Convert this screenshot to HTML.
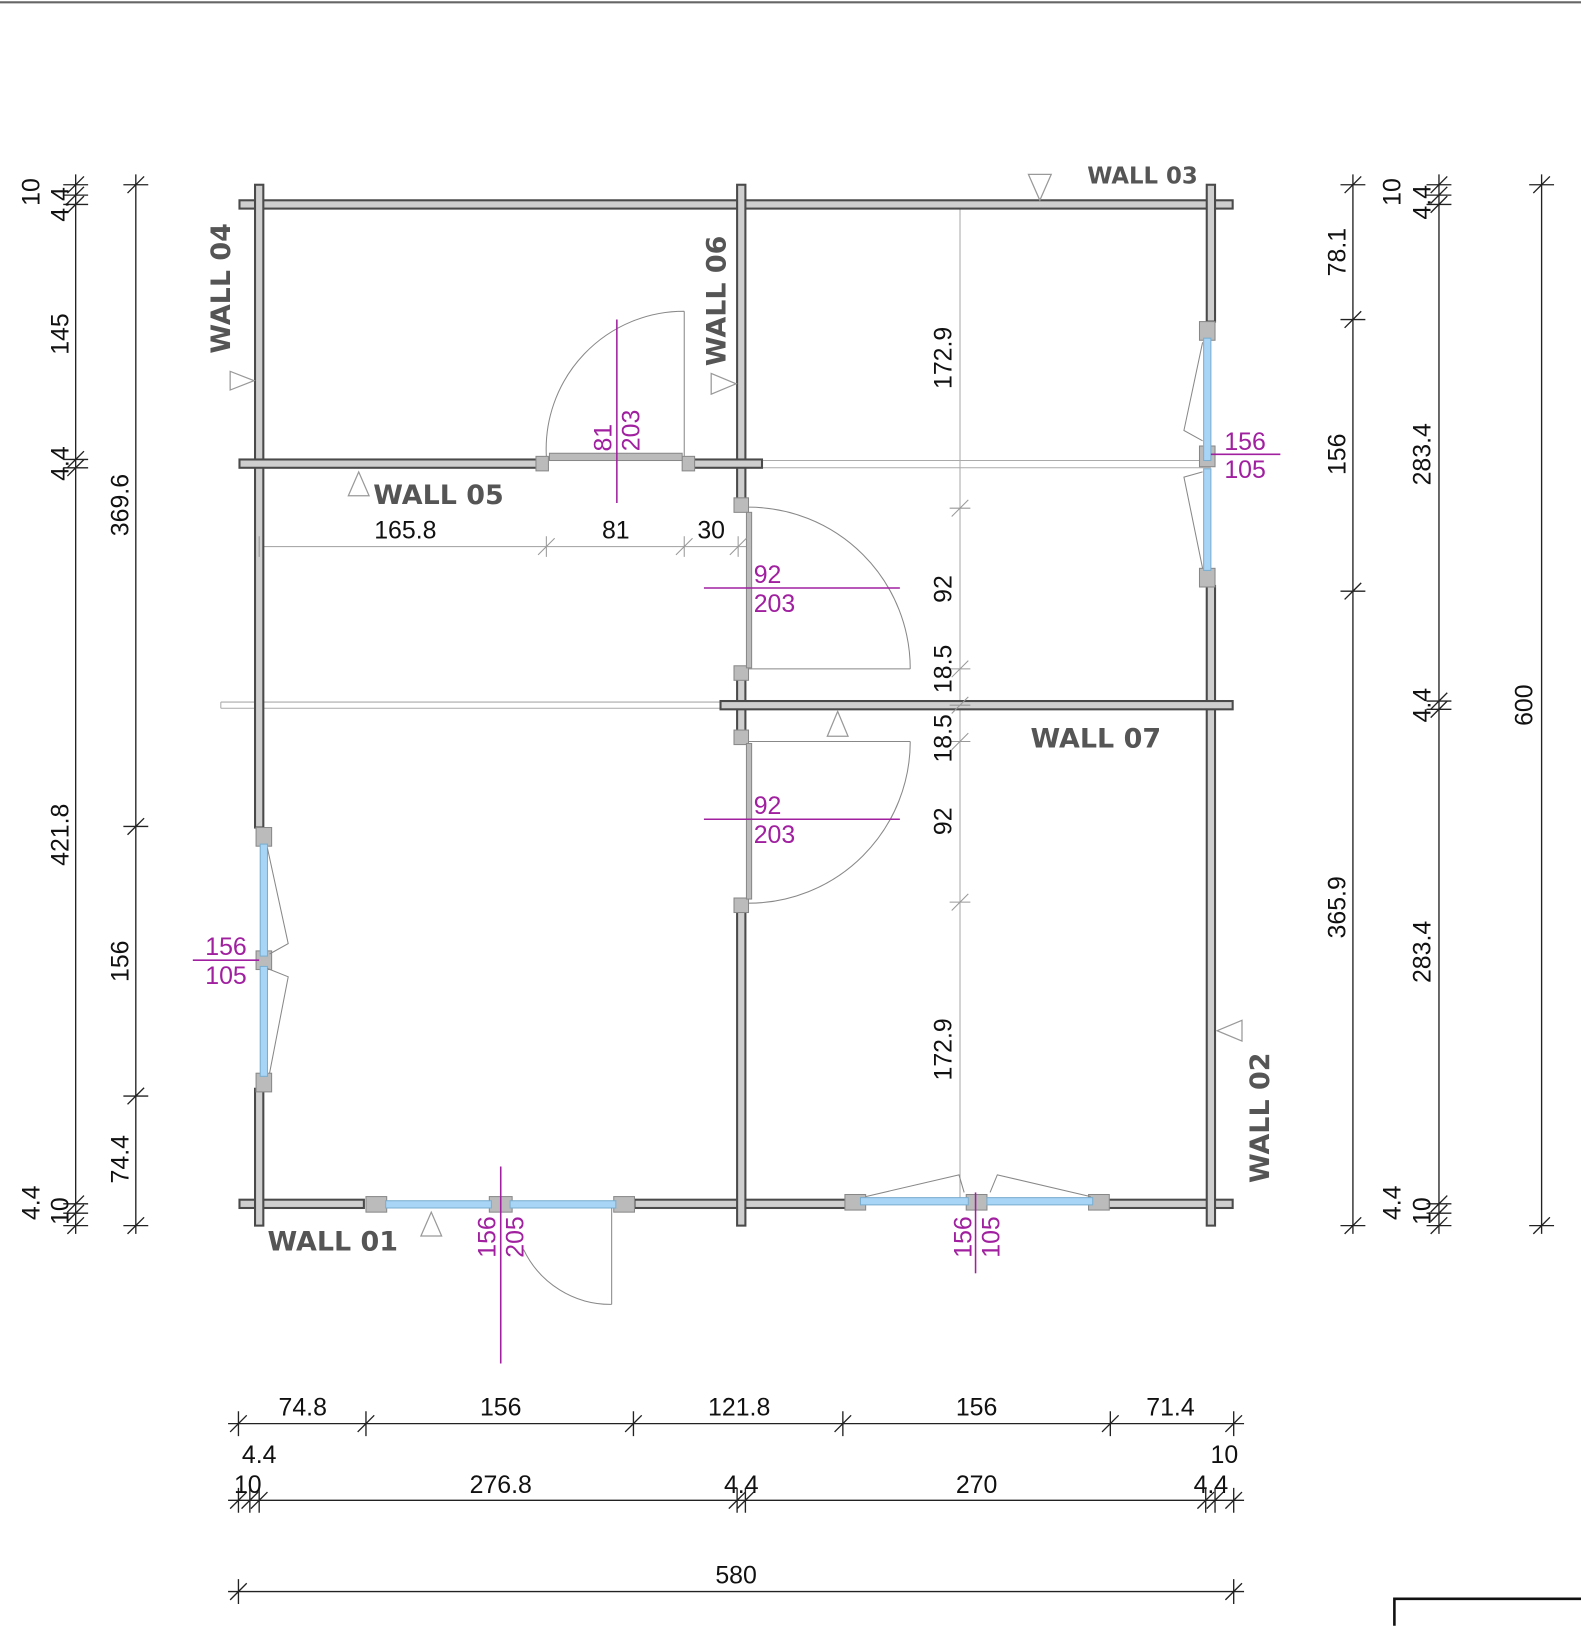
<!DOCTYPE html>
<html><head><meta charset="utf-8"><style>
html,body{margin:0;padding:0;background:#fff;}
svg{display:block;}
text{font-family:"Liberation Sans",sans-serif;}
.d{font-size:24px;fill:#111;}
.p{font-size:24px;fill:#a020a0;}
.w{font-size:26px;font-weight:bold;fill:#555;font-family:"DejaVu Sans","Liberation Sans",sans-serif;}
</style></head><body>
<svg width="1581" height="1626" viewBox="0 0 1525 1568" xmlns="http://www.w3.org/2000/svg">
<defs>
<path id="tv" d="M-12 0h24M-8 8l16-16" stroke="#222" stroke-width="1.3" fill="none"/>
<path id="th" d="M0 -12v24M-8 8l16-16" stroke="#222" stroke-width="1.3" fill="none"/>
</defs>
<line x1="0" y1="2" x2="1525" y2="2" stroke="#666" stroke-width="2"/>

<!-- thin guide lines -->
<g stroke="#aaa" stroke-width="1" fill="none">
<line x1="735" y1="444" x2="1168" y2="444"/><line x1="735" y1="451" x2="1168" y2="451"/>
<line x1="213" y1="677" x2="695" y2="677"/><line x1="213" y1="683" x2="695" y2="683"/>
<line x1="213" y1="677" x2="213" y2="683"/>
<line x1="926" y1="197" x2="926" y2="1161"/>
<line x1="245" y1="527" x2="720" y2="527"/>
</g>

<!-- walls -->
<g fill="#cfcfcf" stroke="#4a4a4a" stroke-width="2">
<rect x="231" y="193" width="958" height="8"/>
<rect x="231" y="1157" width="120" height="8"/>
<rect x="612" y="1157" width="205" height="8"/>
<rect x="1068" y="1157" width="121" height="8"/>
<rect x="246" y="178" width="8" height="620"/>
<rect x="246" y="1050" width="8" height="132"/>
<rect x="1164" y="178" width="8" height="132"/>
<rect x="1164" y="565" width="8" height="617"/>
<rect x="711" y="178" width="8" height="308"/>
<rect x="711" y="648" width="8" height="62"/>
<rect x="711" y="873" width="8" height="309"/>
<rect x="231" y="443" width="290" height="8"/>
<rect x="668" y="443" width="67" height="8"/>
<rect x="695" y="676" width="494" height="8"/>
</g>
<g fill="#bbb" stroke="#888" stroke-width="1">
<rect x="517" y="440" width="12" height="14"/><rect x="658" y="440" width="12" height="14"/>
<rect x="530" y="437" width="128" height="7"/>
<rect x="708" y="480" width="14" height="14"/><rect x="708" y="642" width="14" height="14"/>
<rect x="708" y="704" width="14" height="14"/><rect x="708" y="866" width="14" height="14"/>
<rect x="720" y="494" width="5" height="150"/><rect x="720" y="717" width="5" height="150"/>
<rect x="1157" y="310" width="15" height="18"/><rect x="1157" y="430" width="15" height="20"/><rect x="1157" y="548" width="15" height="18"/>
<rect x="247" y="798" width="15" height="18"/><rect x="247" y="917" width="15" height="18"/><rect x="247" y="1035" width="15" height="18"/>
<rect x="353" y="1154" width="20" height="15"/><rect x="472" y="1154" width="22" height="15"/><rect x="592" y="1154" width="20" height="15"/>
<rect x="815" y="1152" width="20" height="15"/><rect x="932" y="1152" width="20" height="15"/><rect x="1050" y="1152" width="20" height="15"/>
</g>
<g fill="#a8d4f5" stroke="#7aaed0" stroke-width="1">
<rect x="1161" y="326" width="7" height="118"/><rect x="1161" y="452" width="7" height="98"/>
<rect x="251" y="814" width="7" height="108"/><rect x="251" y="932" width="7" height="106"/>
<rect x="372" y="1158" width="102" height="7"/><rect x="492" y="1158" width="102" height="7"/>
<rect x="830" y="1155" width="104" height="7"/><rect x="952" y="1155" width="102" height="7"/>
</g>
<!-- sash lines, doors -->
<g stroke="#888" stroke-width="1" fill="none">
<polyline points="1160,330 1142,415 1160,425"/><polyline points="1160,455 1142,460 1160,548"/>
<polyline points="258,818 278,910 260,920"/><polyline points="258,934 278,942 260,1035"/>
<polyline points="835,1154 925,1133 930,1150"/><polyline points="1052,1154 962,1133 955,1150"/>
<path d="M660 440V300M527 440A133 133 0 0 1 660 300"/>
<path d="M722 645H878M878 645A156 156 0 0 0 722 489"/>
<path d="M722 715H878M878 715A156 156 0 0 1 722 871"/>
<path d="M590 1165V1258M590 1258A93 93 0 0 1 505 1205"/>
</g>
<!-- triangles -->
<g stroke="#999" stroke-width="1.2" fill="#fff">
<polygon points="222,358 222,376 245,367"/>
<polygon points="686,360 686,380 710,370"/>
<polygon points="336,478 356,478 346,455"/>
<polygon points="992,168 1014,168 1003,193"/>
<polygon points="798,710 818,710 808,686"/>
<polygon points="1198,984 1198,1004 1174,994"/>
<polygon points="406,1192 426,1192 416,1169"/>
</g>
<!-- wall labels -->
<text class="w" transform="translate(222,278) rotate(-90)" text-anchor="middle">WALL 04</text>
<text class="w" transform="translate(700,290) rotate(-90)" text-anchor="middle">WALL 06</text>
<text class="w" transform="translate(1224,1078) rotate(-90)" text-anchor="middle">WALL 02</text>
<text class="w" x="423" y="486" text-anchor="middle">WALL 05</text>
<text class="w" x="1102" y="177" text-anchor="middle" style="font-size:22px">WALL 03</text>
<text class="w" x="1057" y="721" text-anchor="middle">WALL 07</text>
<text class="w" x="321" y="1206" text-anchor="middle">WALL 01</text>

<!-- purple -->
<g stroke="#a020a0" stroke-width="1.5">
<line x1="595" y1="308" x2="595" y2="485"/>
<line x1="679" y1="567" x2="868" y2="567"/><line x1="679" y1="790" x2="868" y2="790"/>
<line x1="1168" y1="438" x2="1235" y2="438"/><line x1="186" y1="926" x2="250" y2="926"/>
<line x1="483" y1="1125" x2="483" y2="1315"/><line x1="941" y1="1150" x2="941" y2="1228"/>
</g>
<text class="p" transform="translate(590,422) rotate(-90)" text-anchor="middle">81</text>
<text class="p" transform="translate(617,415) rotate(-90)" text-anchor="middle">203</text>
<text class="p" x="727" y="562">92</text><text class="p" x="727" y="590">203</text>
<text class="p" x="727" y="785">92</text><text class="p" x="727" y="813">203</text>
<text class="p" x="1201" y="434" text-anchor="middle">156</text><text class="p" x="1201" y="461" text-anchor="middle">105</text>
<text class="p" x="218" y="921" text-anchor="middle">156</text><text class="p" x="218" y="949" text-anchor="middle">105</text>
<text class="p" transform="translate(478,1193) rotate(-90)" text-anchor="middle">156</text>
<text class="p" transform="translate(505,1193) rotate(-90)" text-anchor="middle">205</text>
<text class="p" transform="translate(937,1193) rotate(-90)" text-anchor="middle">156</text>
<text class="p" transform="translate(964,1193) rotate(-90)" text-anchor="middle">105</text>

<!-- dimension lines -->
<g stroke="#222" stroke-width="1.3">
<line x1="73" y1="168" x2="73" y2="1190"/><line x1="131" y1="168" x2="131" y2="1190"/>
<line x1="1305" y1="168" x2="1305" y2="1190"/><line x1="1388" y1="168" x2="1388" y2="1190"/>
<line x1="1487" y1="168" x2="1487" y2="1190"/>
<line x1="220" y1="1373" x2="1200" y2="1373"/><line x1="220" y1="1447" x2="1200" y2="1447"/>
<line x1="220" y1="1535" x2="1200" y2="1535"/>
</g>
<g>
<use href="#tv" x="73" y="178"/><use href="#tv" x="73" y="188"/><use href="#tv" x="73" y="197"/><use href="#tv" x="73" y="443"/><use href="#tv" x="73" y="451"/><use href="#tv" x="73" y="1161"/><use href="#tv" x="73" y="1170"/><use href="#tv" x="73" y="1182"/>
<use href="#tv" x="131" y="178"/><use href="#tv" x="131" y="797"/><use href="#tv" x="131" y="1057"/><use href="#tv" x="131" y="1182"/>
<use href="#tv" x="1305" y="178"/><use href="#tv" x="1305" y="308"/><use href="#tv" x="1305" y="570"/><use href="#tv" x="1305" y="1182"/>
<use href="#tv" x="1388" y="178"/><use href="#tv" x="1388" y="188"/><use href="#tv" x="1388" y="197"/><use href="#tv" x="1388" y="676"/><use href="#tv" x="1388" y="684"/><use href="#tv" x="1388" y="1161"/><use href="#tv" x="1388" y="1170"/><use href="#tv" x="1388" y="1182"/>
<use href="#tv" x="1487" y="178"/><use href="#tv" x="1487" y="1182"/>
<use href="#th" x="230" y="1373"/><use href="#th" x="353" y="1373"/><use href="#th" x="611" y="1373"/><use href="#th" x="813" y="1373"/><use href="#th" x="1071" y="1373"/><use href="#th" x="1190" y="1373"/>
<use href="#th" x="230" y="1447"/><use href="#th" x="241" y="1447"/><use href="#th" x="250" y="1447"/><use href="#th" x="711" y="1447"/><use href="#th" x="719" y="1447"/><use href="#th" x="1163" y="1447"/><use href="#th" x="1172" y="1447"/><use href="#th" x="1190" y="1447"/>
<use href="#th" x="230" y="1535"/><use href="#th" x="1190" y="1535"/>
</g>
<g stroke="#999" stroke-width="1" fill="none">
<path d="M916 490h20M918 498l16-16M916 645h20M918 653l16-16M916 680h20M918 688l16-16M916 715h20M918 723l16-16M916 870h20M918 878l16-16"/>
<path d="M527 517v20M519 535l16-16M660 517v20M652 535l16-16M712 517v20M704 535l16-16M250 517v20"/>
</g>

<!-- dim texts -->
<g class="d" text-anchor="middle">
<text transform="translate(38,185) rotate(-90)">10</text>
<text transform="translate(66,197) rotate(-90)">4.4</text>
<text transform="translate(66,322) rotate(-90)">145</text>
<text transform="translate(66,447) rotate(-90)">4.4</text>
<text transform="translate(66,805) rotate(-90)">421.8</text>
<text transform="translate(38,1160) rotate(-90)">4.4</text>
<text transform="translate(66,1168) rotate(-90)">10</text>
<text transform="translate(124,487) rotate(-90)">369.6</text>
<text transform="translate(124,927) rotate(-90)">156</text>
<text transform="translate(124,1118) rotate(-90)">74.4</text>
<text transform="translate(1298,243) rotate(-90)">78.1</text>
<text transform="translate(1298,438) rotate(-90)">156</text>
<text transform="translate(1298,875) rotate(-90)">365.9</text>
<text transform="translate(1351,185) rotate(-90)">10</text>
<text transform="translate(1380,195) rotate(-90)">4.4</text>
<text transform="translate(1380,438) rotate(-90)">283.4</text>
<text transform="translate(1380,680) rotate(-90)">4.4</text>
<text transform="translate(1380,918) rotate(-90)">283.4</text>
<text transform="translate(1351,1160) rotate(-90)">4.4</text>
<text transform="translate(1380,1168) rotate(-90)">10</text>
<text transform="translate(1478,680) rotate(-90)">600</text>
<text transform="translate(918,345) rotate(-90)">172.9</text>
<text transform="translate(918,568) rotate(-90)">92</text>
<text transform="translate(918,645) rotate(-90)">18.5</text>
<text transform="translate(918,712) rotate(-90)">18.5</text>
<text transform="translate(918,792) rotate(-90)">92</text>
<text transform="translate(918,1012) rotate(-90)">172.9</text>
<text x="391" y="519">165.8</text><text x="594" y="519">81</text><text x="686" y="519">30</text>
<text x="292" y="1365">74.8</text><text x="483" y="1365">156</text><text x="713" y="1365">121.8</text><text x="942" y="1365">156</text><text x="1129" y="1365">71.4</text>
<text x="250" y="1411">4.4</text><text x="1181" y="1411">10</text>
<text x="239" y="1440">10</text><text x="483" y="1440">276.8</text><text x="715" y="1440">4.4</text><text x="942" y="1440">270</text><text x="1168" y="1440">4.4</text>
<text x="710" y="1527">580</text>
</g>
<path d="M1345 1568V1542H1525" stroke="#111" stroke-width="2.5" fill="none"/>
</svg>
</body></html>
